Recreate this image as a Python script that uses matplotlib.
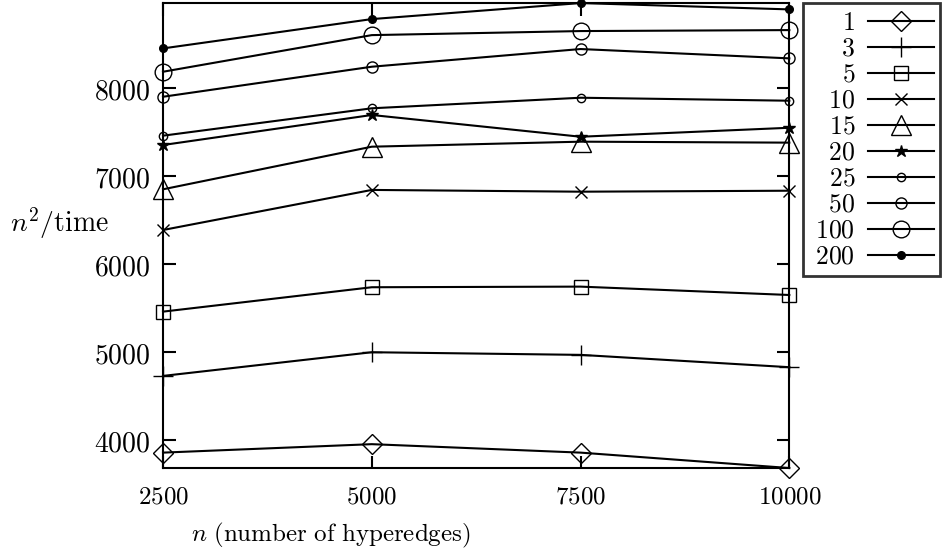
import matplotlib
matplotlib.use("Agg")
import matplotlib.pyplot as plt

plt.rcParams['mathtext.fontset'] = 'cm'

# problem size n (number of hyperedges)
n = [2500, 5000, 7500, 10000]

# n^2/time for each setting
s1 = [3860, 3956, 3860, 3685]
s3 = [4731, 5000, 4970, 4830]
s5 = [5461, 5738, 5745, 5650]
s10 = [6388, 6843, 6823, 6834]
s15 = [6850, 7334, 7391, 7380]
s20 = [7353, 7694, 7447, 7549]
s25 = [7459, 7770, 7890, 7856]
s50 = [7901, 8242, 8443, 8337]
s100 = [8185, 8601, 8647, 8658]
s200 = [8450, 8783, 8965, 8893]

labels = ['1', '3', '5', '10', '15', '20', '25', '50', '100', '200']
series = [s1, s3, s5, s10, s15, s20, s25, s50, s100, s200]

# marker style per series: (marker, size, filled)
styles = [('D', 10, False), ('+', 14, False), ('s', 10.5, False),
          ('x', 8, False), ('^', 14, False), ('*', 9, True),
          ('o', 6, False), ('o', 8, False), ('o', 12, False),
          ('o', 5.5, True)]

fig = plt.figure(figsize=(9.51, 5.54), dpi=100)
ax = fig.add_axes([0.1714, 0.1547, 0.6586, 0.8393])

for lab, ys, (m, ms, filled) in zip(labels, series, styles):
    ax.plot(n, ys, color='black', lw=1.5, marker=m, markersize=ms,
            markerfacecolor='black' if filled else 'none',
            markeredgecolor='black', markeredgewidth=1.0,
            label=r'$\;' + lab + '$', clip_on=False)

ax.set_xlim(2500, 10000)
ax.set_ylim(3682, 8962)
ax.set_xticks(n)
ax.set_xticklabels(['$%d$' % v for v in n], fontsize=18)
ax.set_yticks([4000, 5000, 6000, 7000, 8000])
ax.set_yticklabels(['$%d$' % v for v in [4000, 5000, 6000, 7000, 8000]], fontsize=20)

ax.tick_params(direction='in', top=True, right=True, length=9, width=1.5)
ax.tick_params(axis='y', pad=9)
ax.tick_params(axis='x', pad=12)
for sp in ax.spines.values():
    sp.set_linewidth(1.5)

fig.text(0.3475, 0.034, r'$n\ \mathrm{(number\ of\ hyperedges)}$', fontsize=18,
         ha='center', va='center')
fig.text(0.062, 0.598, r'$n^2/\mathrm{time}$', fontsize=20, ha='center', va='center')

leg = ax.legend(loc='upper left', bbox_to_anchor=(0.8444, 0.994),
                bbox_transform=fig.transFigure, markerfirst=False,
                fontsize=18.5, frameon=True, fancybox=False, borderaxespad=0,
                labelspacing=0.0, handlelength=2.55, handletextpad=0.5,
                borderpad=0.25)
leg.get_frame().set_edgecolor('black')
leg.get_frame().set_linewidth(2)

fig.savefig('out.png', dpi=100)
